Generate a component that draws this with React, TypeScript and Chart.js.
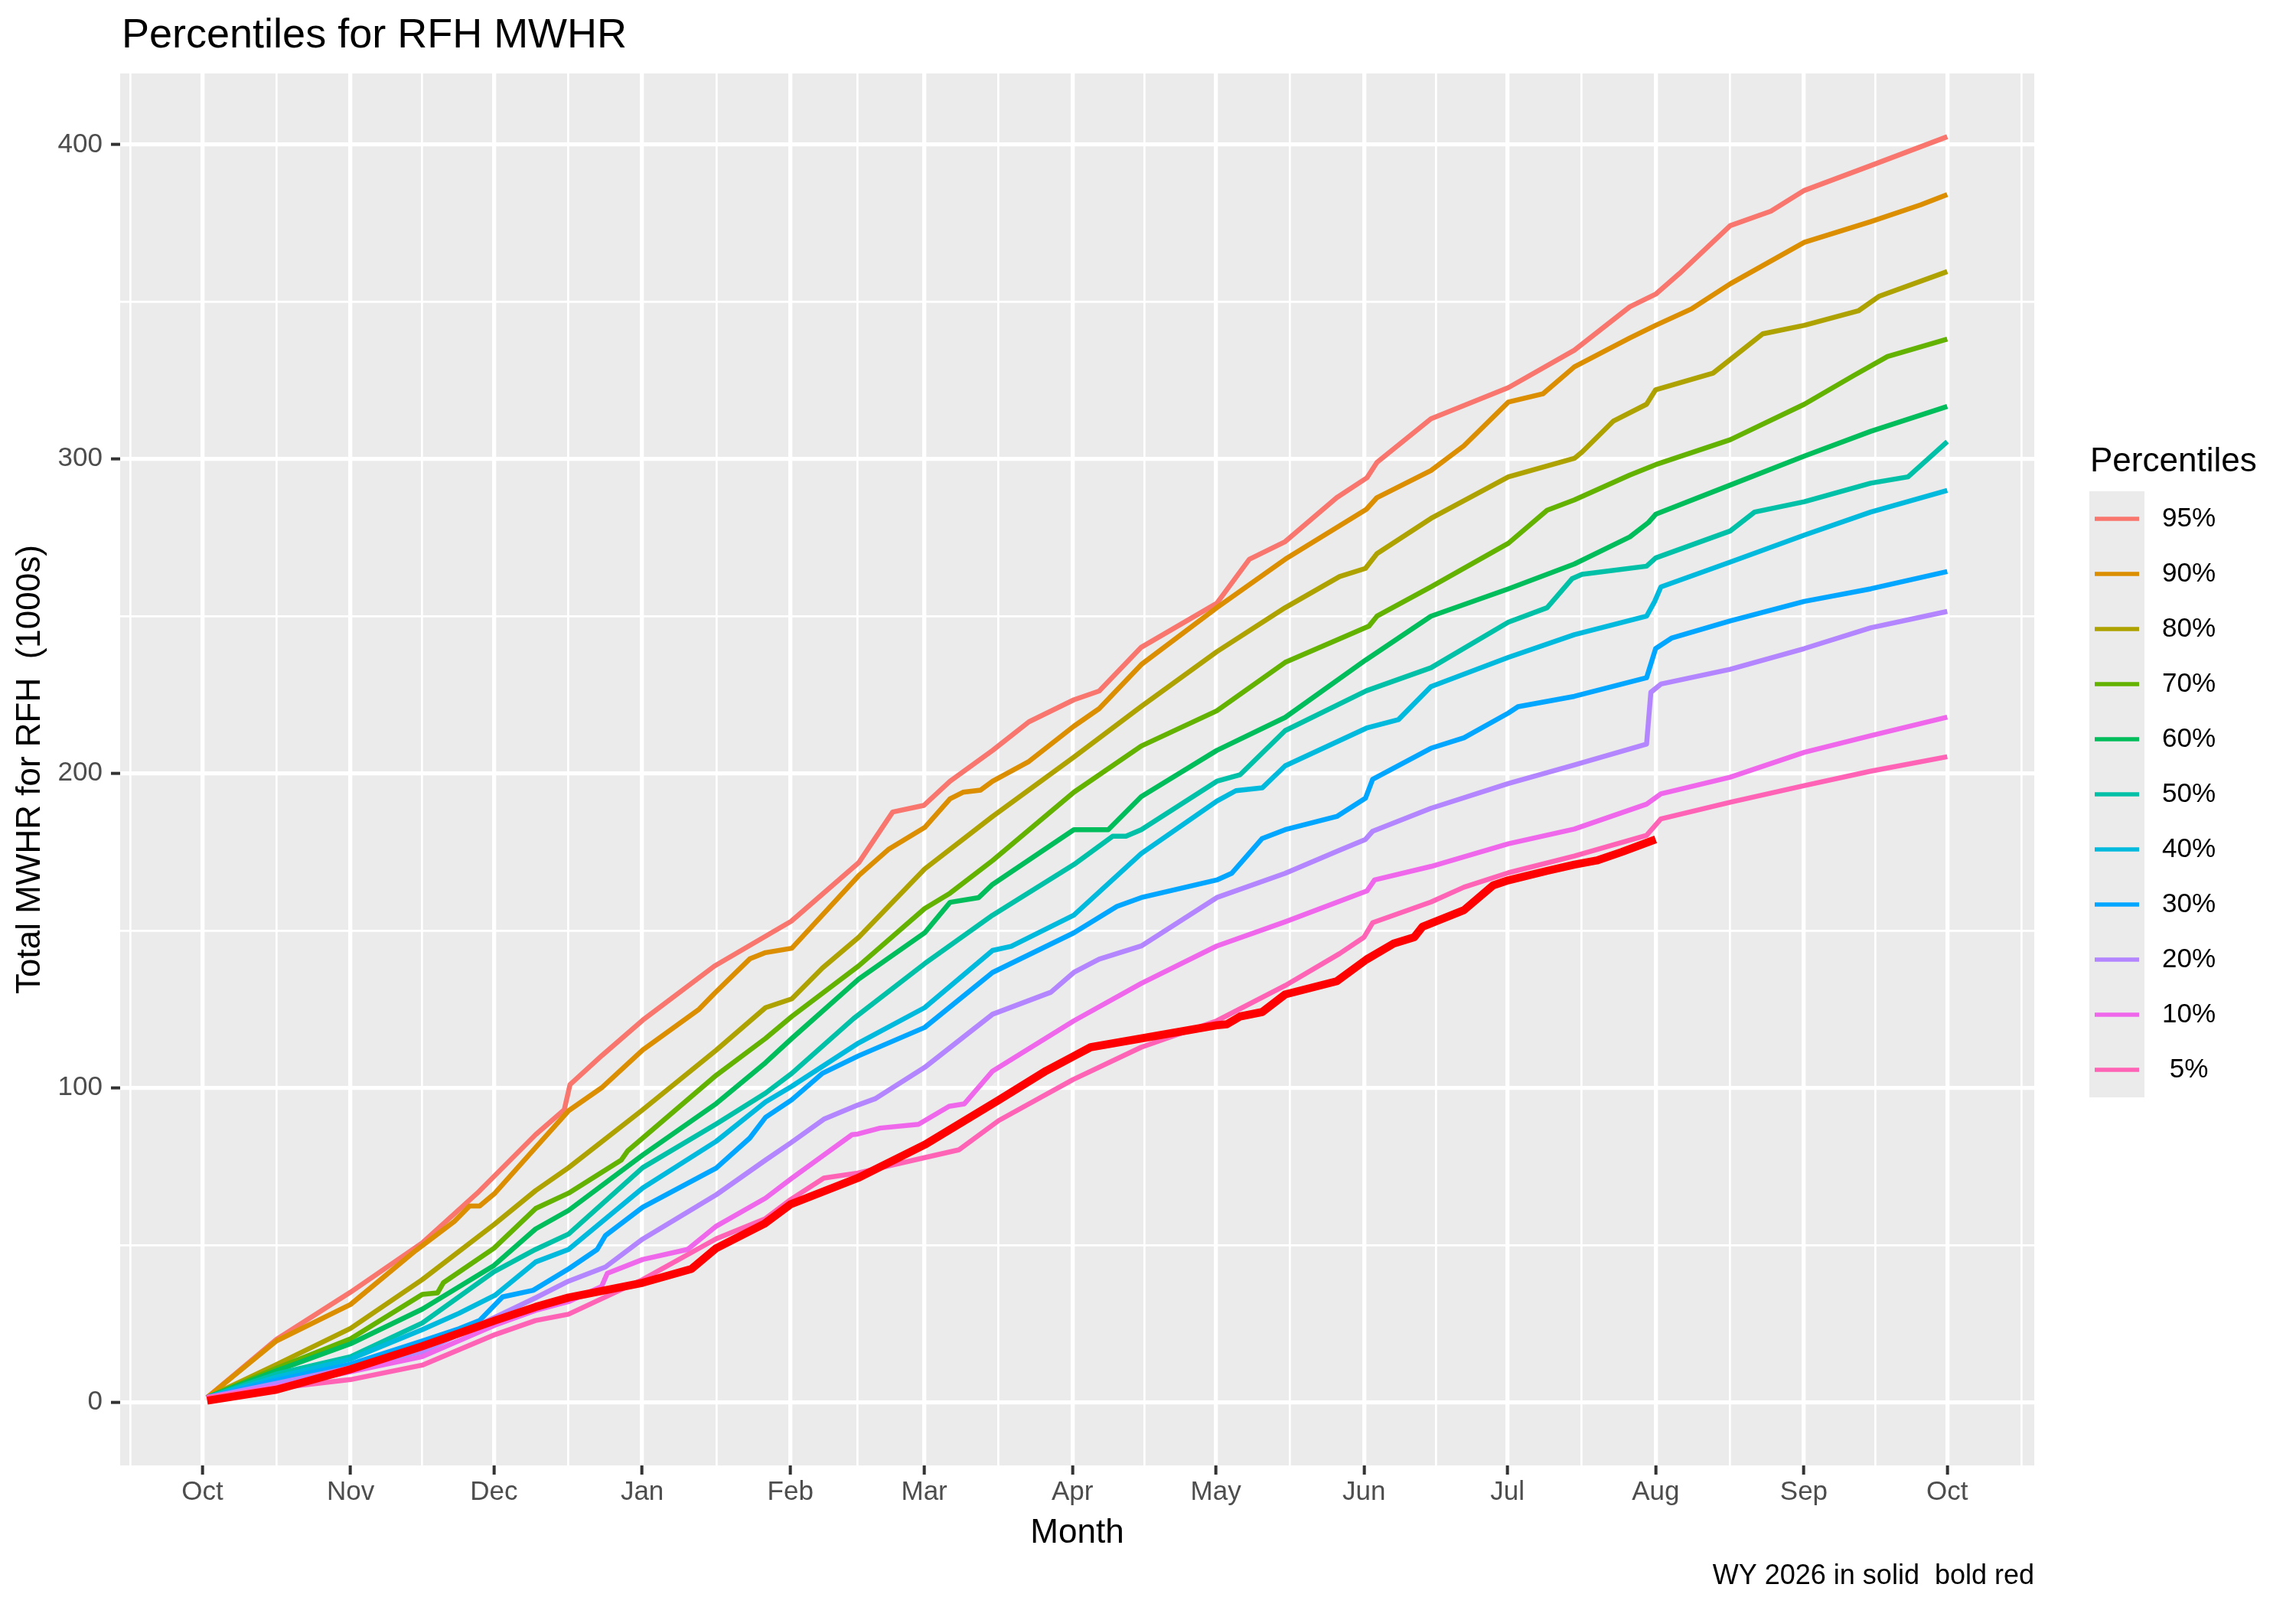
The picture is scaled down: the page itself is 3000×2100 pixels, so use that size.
import React, { useRef, useEffect } from 'react';
import { Chart, registerables } from 'chart.js';
Chart.register(...registerables);

// x = days after 1 Oct (start of the water year), y = total MWHR (1000s)
const monthDays = [0, 31, 61, 92, 123, 151, 182, 212, 243, 273, 304, 335, 365];
const monthLabels = ['Oct', 'Nov', 'Dec', 'Jan', 'Feb', 'Mar', 'Apr', 'May', 'Jun', 'Jul', 'Aug', 'Sep', 'Oct'];
const valueTicks = [0, 100, 200, 300, 400];

const percentileLabels = ['95%', '90%', '80%', '70%', '60%', '50%', '40%', '30%', '20%', '10%', ' 5%'];

const p95: [number, number][] = [
  [1, 1.5], [15.5, 20], [31, 35], [46, 50.7], [57.5, 66.5], [69.7, 85.1], [75.7, 93], [76.9, 101],
  [83.6, 110.3], [92.1, 121.5], [107.1, 138.7], [123.2, 153], [137.3, 171.6], [144.4, 187.7],
  [150.9, 189.8], [156.4, 197.5], [165.3, 207.3], [172.9, 216.4], [182.3, 223.4], [187.6, 226.2],
  [196.4, 240.1], [212.2, 254.1], [219, 268.1], [226.5, 273.7], [237.3, 287.7], [243.6, 294],
  [245.7, 298.9], [257, 312.8], [273.2, 322.7], [287, 334.6], [298.6, 348.4], [304, 352.4],
  [309, 359], [319.6, 374.2], [328.1, 378.8], [335.1, 385.4], [349, 393.3], [365, 402.5],
];
const p90: [number, number][] = [
  [1, 1.5], [15.5, 19.5], [31, 31.1], [44.6, 48.2], [52.7, 57.5], [55.9, 62.4], [58, 62.4],
  [61.2, 66.5], [69.7, 81], [76.6, 92.7], [83.5, 100], [92.1, 112], [103.9, 125], [107.1, 130],
  [114.5, 141], [117.8, 143], [123.3, 144.4], [137.3, 167.5], [143.5, 175.8], [151.1, 182.8],
  [156.4, 191.9], [159.1, 194], [162.8, 194.7], [165.3, 197.5], [172.9, 203.8], [182.3, 215],
  [187.6, 220.6], [196.4, 234.6], [212.2, 252.7], [226.5, 268.1], [243.5, 284], [245.7, 287.7],
  [257, 296.3], [263.9, 304.2], [273.2, 318.1], [280.4, 320.7], [287, 329.3], [298.6, 338.5],
  [304, 342.5], [311.6, 347.8], [319.6, 355.7], [335.1, 368.9], [349, 375.5], [359.4, 380.8],
  [365, 384.1],
];
const p80: [number, number][] = [
  [1, 1.5], [15.5, 12], [31, 23.5], [46, 39], [61, 56.5], [69.7, 67.3], [76.6, 74.6], [92, 92.9],
  [107.5, 112], [117.8, 125.5], [123.3, 128.3], [129.7, 138.1], [137.3, 147.9], [151.1, 169.6],
  [165.3, 186.3], [182.3, 205.2], [196.4, 221.3], [212.2, 238.7], [226.5, 252.7], [237.9, 262.6],
  [243.3, 265.2], [245.7, 269.9], [257, 281.1], [273.2, 294.3], [287, 300.2], [288.6, 302.2],
  [295.2, 312.1], [302.1, 317.4], [304, 322], [316, 327.3], [326.4, 339.8], [335.1, 342.5],
  [346.4, 347.1], [350.7, 351.7], [365, 359.6],
];
const p70: [number, number][] = [
  [1, 1.5], [15.5, 10.8], [31, 20.2], [46, 34.3], [49.2, 34.8], [50.4, 38], [61, 49], [69.7, 61.6],
  [76.6, 66.5], [87.6, 77], [89, 80], [92.1, 84], [107.5, 104], [117.8, 115.7], [123.3, 122.7],
  [137.3, 138.8], [151.1, 157], [156.4, 161.9], [165.3, 172.3], [182.3, 194], [196.4, 208.7],
  [212.2, 219.9], [226.5, 235.3], [237.9, 242.8], [244, 246.8], [245.7, 250], [257, 259.3],
  [273.2, 273.2], [281.3, 283.7], [287, 287], [298.6, 294.9], [304, 298.2], [319.6, 306.1],
  [335.1, 317.4], [345.5, 326.6], [352.5, 332.6], [365, 338.1],
];
const p60: [number, number][] = [
  [1, 1.5], [15.5, 10], [31, 18.6], [46, 29.6], [61, 43.5], [69.7, 55.1], [76.6, 61], [92.1, 78.6],
  [107.5, 95], [117.8, 108], [123.3, 115.7], [137.3, 134.6], [151.1, 149.3], [156.4, 159],
  [162.4, 160.5], [165.3, 164.7], [182.3, 182.1], [189.5, 182.1], [196.4, 192.6], [212.2, 207.3],
  [226.5, 217.8], [243.3, 236], [257, 250], [273.2, 258.7], [287, 266.6], [298.6, 275.2],
  [302.5, 279.8], [304, 282.4], [319.6, 291.7], [335.1, 300.9], [349, 308.8], [365, 316.7],
];
const p50: [number, number][] = [
  [1, 1.5], [15.5, 9], [31, 14.5], [46, 25.2], [61, 41.5], [69.7, 48.6], [76.6, 53.5], [92.1, 74.6],
  [107.5, 88.5], [117.8, 98.3], [123.3, 104.6], [136.2, 122], [151.1, 139.5], [165.3, 154.9],
  [182.3, 171], [190.4, 180], [193.2, 180], [196.4, 182.1], [212.2, 197.5], [217.1, 199.6],
  [226.5, 213.6], [243.5, 226.3], [257, 233.6], [273.2, 248.1], [281.3, 252.7], [286.5, 261.9],
  [288.6, 263.3], [302.1, 265.9], [304, 268.5], [319.6, 277.1], [324.7, 283.1], [335.1, 286.4],
  [349, 292.3], [356.8, 294.3], [365, 305.5],
];
const p40: [number, number][] = [
  [1, 1.5], [15.5, 8], [31, 13.7], [46, 23.1], [53.7, 28.3], [61.2, 34], [69.7, 44.6], [76.6, 48.6],
  [92.1, 68.1], [107.5, 83], [117.8, 95.5], [123.3, 100.5], [137.3, 114.3], [151.1, 125.5],
  [165.3, 143.7], [169.2, 145], [182.3, 154.9], [196.4, 174.5], [212.2, 191.2], [216.2, 194.5],
  [221.7, 195.4], [226.5, 202.4], [243.5, 214.4], [250.2, 217.1], [257, 227.6], [273.2, 236.9],
  [287, 244.1], [302.1, 250], [303.8, 254.7], [305.1, 259.3], [319.6, 267.2], [335.1, 275.8],
  [349, 283.1], [365, 290],
];
const p30: [number, number][] = [
  [1, 1.5], [15.5, 7], [31, 12.1], [46, 19.5], [53.7, 23.4], [58, 26], [62.8, 33.5], [69.2, 35.6],
  [76.7, 42.5], [82.6, 48.6], [84.3, 53], [92.1, 62], [107.5, 74.5], [114.5, 84], [117.8, 90.6],
  [123.3, 96.2], [129.7, 104.6], [137.3, 110.2], [151.1, 119.2], [165.3, 136.7], [182.3, 149.3],
  [191.3, 157.7], [196.4, 160.5], [212.2, 166.1], [215.3, 168.2], [221.7, 179.3], [226.5, 182.1],
  [237.3, 186.3], [243.3, 192.1], [244.8, 198.1], [257, 208], [263.9, 211.3], [273.2, 219.2],
  [275.2, 221.2], [287, 224.5], [302.1, 230.4], [304, 239.7], [307.3, 243], [319.6, 248.5],
  [335.1, 254.7], [349, 258.7], [365, 264.2],
];
const p20: [number, number][] = [
  [1, 1.5], [15.5, 6], [31, 11], [46, 16], [61.2, 27], [69.7, 33.2], [76.6, 38.5], [84.3, 43],
  [92.1, 51.9], [107.5, 66], [117.8, 77], [123.1, 82.5], [130, 90], [137.1, 94.5], [140.7, 96.5],
  [151.1, 106.5], [165.3, 123.4], [177.5, 130.4], [182.3, 136.7], [187.6, 140.9], [196.4, 145.1],
  [212.2, 160.5], [226.5, 168.2], [237.9, 175.6], [243.3, 179], [244.8, 181.6], [257, 188.9],
  [273.2, 196.8], [287, 202.7], [302.1, 209.3], [303, 225.8], [305.1, 228.4], [319.6, 233.1],
  [335.1, 239.7], [349, 246.3], [365, 251.5],
];
const p10: [number, number][] = [
  [1, 1.5], [15.5, 5], [31, 9.7], [46, 14.5], [61.2, 24.5], [69.7, 29.2], [76.6, 32], [83.5, 36.8],
  [84.7, 41], [92.1, 45.4], [101.5, 48.6], [107.5, 56], [117.8, 64.9], [123.1, 71], [130, 78.6],
  [135.9, 85.1], [137.1, 85.3], [141.8, 87.2], [149.8, 88.4], [156.2, 94.1], [159.4, 94.9],
  [165.3, 105.3], [182.3, 121.3], [196.4, 133.2], [212.2, 145.1], [226.5, 152.8], [243.6, 162.6],
  [245.2, 166.1], [257, 170.4], [273.2, 177.6], [287, 182.3], [302.1, 190.2], [305.1, 193.5],
  [319.6, 198.8], [335.1, 206.7], [349, 212], [365, 217.9],
];
const p05: [number, number][] = [
  [1, 1.5], [15.5, 4.5], [31, 7.2], [46, 11.8], [61.2, 21.5], [69.7, 26], [76.6, 28], [92.1, 39],
  [107.5, 52], [117.8, 58.4], [123.1, 64.5], [130, 71.3], [137.1, 72.9], [151.1, 77.8],
  [158.3, 80.3], [166.6, 89.6], [182.1, 102.6], [196.4, 112.9], [212.2, 121.3], [226.5, 132.5],
  [237.9, 142.7], [243, 147.9], [244.8, 152.5], [257, 159.1], [263.9, 163.8], [273.2, 168.4],
  [287, 173.7], [302.1, 180.3], [305.1, 185.5], [319.6, 190.8], [335.1, 196.1], [349, 200.7],
  [365, 205.3],
];
// current water year, runs to end of July
const wy2026: [number, number][] = [
  [1, 0.5], [15.5, 4], [31, 10.5], [46, 17.8], [61.2, 26], [69.7, 30.3], [76.6, 33.3], [92.1, 38],
  [102.3, 42.4], [107.5, 49], [117.5, 56.7], [123.1, 63], [137.1, 71.3], [151.1, 81.9],
  [166.6, 96.1], [176.5, 105.4], [182.3, 110.1], [185.8, 112.9], [196.4, 115.7], [212.2, 119.9],
  [214.3, 120.2], [217.1, 122.7], [221.7, 124.1], [226.5, 129.7], [237.3, 133.9], [243.5, 140.8],
  [249.2, 145.9], [253.5, 147.9], [255.2, 151.2], [263.9, 156.5], [270, 164.4], [273.2, 166],
  [281.3, 169], [287, 171], [291.7, 172.3], [296.9, 175], [304, 179],
];

const percentileSeries = [p95, p90, p80, p70, p60, p50, p40, p30, p20, p10, p05];
const hueColors = ['#F8766D', '#DB8E00', '#AEA200', '#64B200', '#00BD5C', '#00C1A7', '#00BADE', '#00A6FF', '#B385FF', '#EF67EB', '#FF63B6'];

const FONT = '"Liberation Sans", Arial, Helvetica, sans-serif';
const PANEL_BG = '#EBEBEB';

// ggplot-like minor breaks halfway between the major ones
const xMinor = (() => {
  const ext = [-30, ...monthDays, 396];
  const out: number[] = [];
  for (let i = 0; i < ext.length - 1; i++) out.push((ext[i] + ext[i + 1]) / 2);
  return out;
})();
const yMinor = [50, 150, 250, 350];

const panelBackground = {
  id: 'panelBackground',
  beforeDraw(chart: Chart) {
    const { ctx, chartArea: a } = chart;
    ctx.save();
    ctx.fillStyle = PANEL_BG;
    ctx.fillRect(a.left, a.top, a.right - a.left, a.bottom - a.top);
    ctx.restore();
  },
};

const decorations = {
  id: 'decorations',
  afterDraw(chart: Chart) {
    const { ctx, chartArea: a } = chart;
    ctx.save();
    // title
    ctx.fillStyle = '#000';
    ctx.textBaseline = 'alphabetic';
    ctx.textAlign = 'left';
    ctx.font = `54px ${FONT}`;
    ctx.fillText('Percentiles for RFH MWHR', a.left + 2, 62);

    // caption
    ctx.font = `36px ${FONT}`;
    ctx.textAlign = 'right';
    ctx.fillText('WY 2026 in solid  bold red', a.right, 2070);

    // legend
    const lx = 2730;
    ctx.textAlign = 'left';
    ctx.font = `44px ${FONT}`;
    ctx.fillText('Percentiles', lx + 1, 616);
    const keyTop = 642;
    const keyH = 72;
    const items = chart.data.datasets.filter((d: any) => d.inLegend);
    ctx.fillStyle = PANEL_BG;
    ctx.fillRect(lx, keyTop, 72, keyH * items.length);
    items.forEach((d: any, i: number) => {
      const cy = keyTop + keyH * i + keyH / 2;
      ctx.strokeStyle = d.borderColor;
      ctx.lineWidth = 5.7;
      ctx.beginPath();
      ctx.moveTo(lx + 7, cy);
      ctx.lineTo(lx + 65, cy);
      ctx.stroke();
      ctx.fillStyle = '#000';
      ctx.font = `35px ${FONT}`;
      ctx.textBaseline = 'middle';
      ctx.fillText(d.label, 2825, cy);
    });
    ctx.restore();
  },
};

const App: React.FC = () => {
  const canvasRef = useRef<HTMLCanvasElement>(null);
  const chartRef = useRef<Chart | null>(null);

  useEffect(() => {
    document.body.style.margin = '0';
    if (!canvasRef.current) return;
    if (chartRef.current) chartRef.current.destroy();
    const ctx = canvasRef.current.getContext('2d');
    if (!ctx) return;

    const datasets: any[] = percentileSeries.map((s, i) => ({
      label: percentileLabels[i],
      data: s.map(([x, y]) => ({ x, y })),
      borderColor: hueColors[i],
      borderWidth: 6.5,
      pointRadius: 0,
      tension: 0,
      fill: false,
      borderJoinStyle: 'round',
      order: percentileSeries.length - i,
      inLegend: true,
    }));
    datasets.push({
      label: 'WY 2026',
      data: wy2026.map(([x, y]) => ({ x, y })),
      borderColor: '#FF0000',
      borderWidth: 10.5,
      pointRadius: 0,
      tension: 0,
      fill: false,
      borderJoinStyle: 'round',
      order: 0,
      inLegend: false,
    });

    const tickFont = { family: FONT, size: 35 };
    const titleFont = { family: FONT, size: 44 };

    chartRef.current = new Chart(ctx, {
      type: 'line',
      data: { datasets },
      options: {
        animation: false,
        responsive: false,
        devicePixelRatio: 1,
        events: [],
        layout: { padding: { top: 96, right: 342, bottom: 0, left: 0 } },
        plugins: { legend: { display: false }, tooltip: { enabled: false }, title: { display: false } },
        scales: {
          x: {
            type: 'linear',
            min: -17.2,
            max: 383.2,
            afterBuildTicks: (scale: any) => {
              scale.ticks = [...monthDays, ...xMinor].sort((a, b) => a - b).map((v) => ({ value: v }));
            },
            afterFit: (scale: any) => {
              scale.height = 185;
            },
            ticks: {
              autoSkip: false,
              maxRotation: 0,
              padding: 2,
              color: '#4D4D4D',
              font: tickFont,
              callback: (v: any) => {
                const i = monthDays.indexOf(Number(v));
                return i >= 0 ? monthLabels[i] : '';
              },
            },
            grid: {
              color: '#FFFFFF',
              lineWidth: (c: any) => (monthDays.includes(c.tick?.value) ? 5.3 : 2.7),
              tickColor: (c: any) => (monthDays.includes(c.tick?.value) ? '#333333' : 'rgba(0,0,0,0)'),
              tickWidth: 4,
              tickLength: 12,
              drawTicks: true,
            },
            border: { display: false },
            title: {
              display: true,
              text: 'Month',
              color: '#000',
              font: titleFont,
              padding: { top: 0, bottom: 70 },
            },
          },
          y: {
            type: 'linear',
            min: -20.1,
            max: 422.6,
            afterBuildTicks: (scale: any) => {
              scale.ticks = [...valueTicks, ...yMinor].sort((a, b) => a - b).map((v) => ({ value: v }));
            },
            afterFit: (scale: any) => {
              scale.width = 157;
            },
            ticks: {
              autoSkip: false,
              padding: 11,
              color: '#4D4D4D',
              font: tickFont,
              callback: (v: any) => (valueTicks.includes(Number(v)) ? String(v) : ''),
            },
            grid: {
              color: '#FFFFFF',
              lineWidth: (c: any) => (valueTicks.includes(c.tick?.value) ? 5.3 : 2.7),
              tickColor: (c: any) => (valueTicks.includes(c.tick?.value) ? '#333333' : 'rgba(0,0,0,0)'),
              tickWidth: 4,
              tickLength: 12,
              drawTicks: true,
            },
            border: { display: false },
            title: {
              display: true,
              text: 'Total MWHR for RFH  (1000s)',
              color: '#000',
              font: titleFont,
              padding: { top: 13, bottom: 0 },
            },
          },
        },
      } as any,
      plugins: [panelBackground, decorations],
    });

    return () => {
      chartRef.current?.destroy();
      chartRef.current = null;
    };
  }, []);

  return (
    <div style={{ width: 3000, height: 2100, background: '#FFFFFF' }}>
      <canvas ref={canvasRef} width={3000} height={2100}></canvas>
    </div>
  );
};

export default App;
